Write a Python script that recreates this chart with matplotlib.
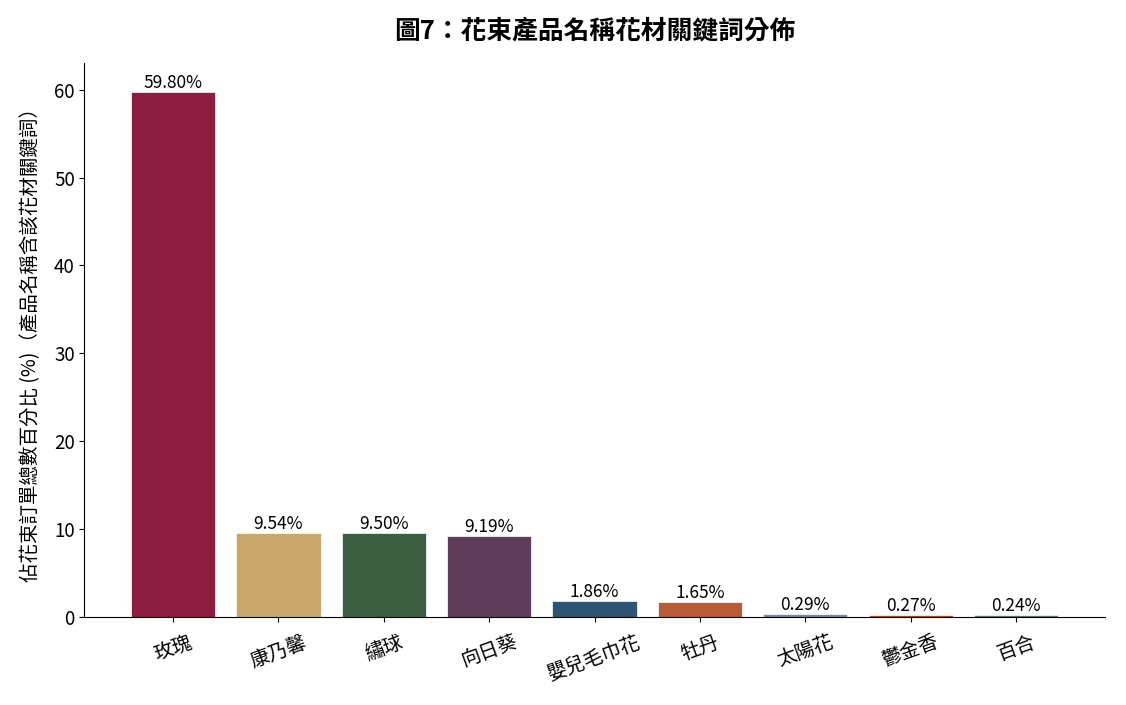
import matplotlib
matplotlib.use("Agg")
import matplotlib.pyplot as plt

plt.rcParams['font.family'] = ['Noto Sans CJK TC', 'DejaVu Sans']

flowers = ['玫瑰', '康乃馨', '繡球', '向日葵', '嬰兒毛巾花', '牡丹', '太陽花', '鬱金香', '百合']
pcts = [59.80, 9.54, 9.50, 9.19, 1.86, 1.65, 0.29, 0.27, 0.24]
colors = ['#8b1e3f', '#c9a66b', '#3b5e40', '#5e3c5a', '#2d5470',
          '#b85c38', '#6f8a9e', '#a0522d', '#5f7a65']

fig, ax = plt.subplots(figsize=(11.26, 7.05), dpi=100)
bars = ax.bar(range(len(flowers)), pcts, width=0.8, color=colors,
              edgecolor='white', linewidth=0.5)

for b, v in zip(bars, pcts):
    ax.text(b.get_x() + b.get_width() / 2, v, f'{v:.2f}%',
            ha='center', va='bottom', fontsize=12.5)

ax.set_xticks(range(len(flowers)))
ax.set_xticklabels(flowers, rotation=20, fontsize=14)
ax.tick_params(axis='x', pad=7)
ax.tick_params(axis='y', labelsize=13.5)
ax.set_ylim(0, 63)
ax.set_ylabel('佔花束訂單總數百分比 (%)（產品名稱含該花材關鍵詞）', fontsize=14, labelpad=9)
ax.set_title('圖7：花束產品名稱花材關鍵詞分佈', fontsize=18.5, fontweight='bold', pad=18)

ax.spines['top'].set_visible(False)
ax.spines['right'].set_visible(False)

fig.subplots_adjust(left=0.075, right=0.981, top=0.91, bottom=0.125)
fig.savefig('out.png')
